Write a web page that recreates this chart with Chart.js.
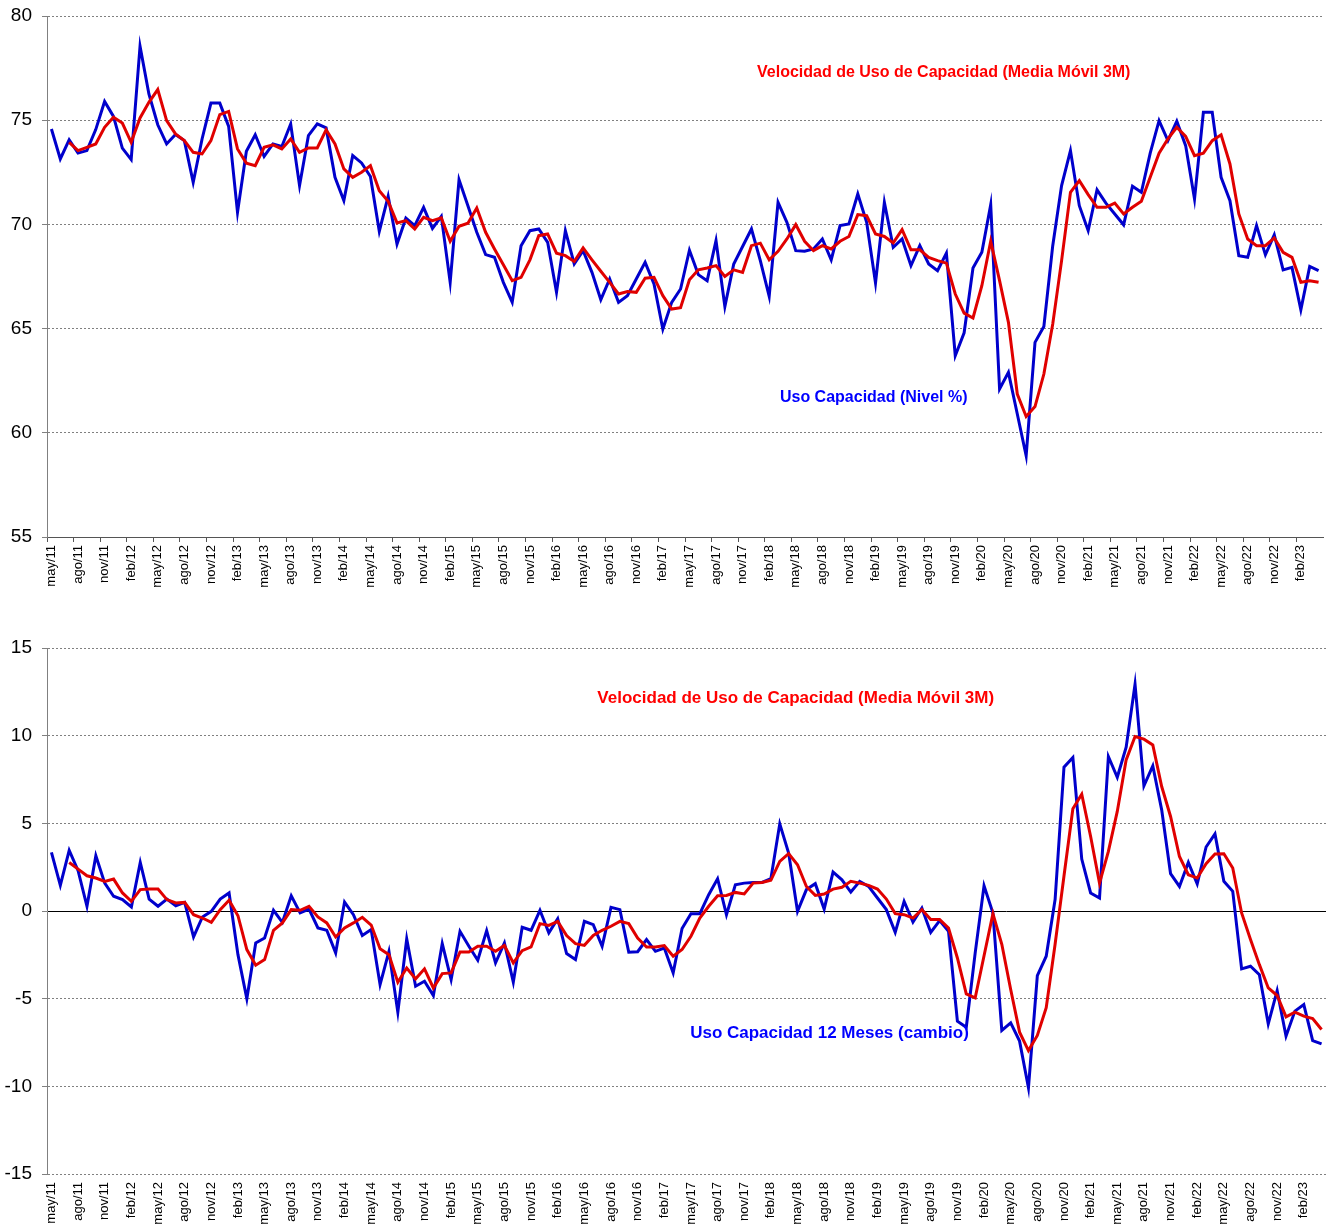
<!DOCTYPE html>
<html>
<head>
<meta charset="utf-8">
<script src="https://cdn.jsdelivr.net/npm/chart.js@4"></script>
<style>
  html, body { margin: 0; padding: 0; background: #fff; }
  body { width: 1327px; height: 1230px; position: relative; overflow: hidden; }
  .panel { position: absolute; left: 0; }
  #top-wrap { top: 0; }
  #bot-wrap { top: 610px; }
</style>
</head>
<body>
<div class="panel" id="top-wrap"><canvas id="top-chart" width="1327" height="600"></canvas></div>
<div class="panel" id="bot-wrap"><canvas id="bot-chart" width="1327" height="620"></canvas></div>
<script>
// ---------------------------------------------------------------
//  Categories: monthly, may/11 .. abr/23
// ---------------------------------------------------------------
const MONTH_NAMES = ["ene", "feb", "mar", "abr", "may", "jun", "jul", "ago", "sep", "oct", "nov", "dic"];
const START_MONTH = 4;   // may
const START_YEAR = 2011;
const N_MONTHS = 144;

const labels = [];
for (let i = 0; i < N_MONTHS; i++) {
  const m = (START_MONTH + i) % 12;
  const y = START_YEAR + Math.floor((START_MONTH + i) / 12);
  labels.push(MONTH_NAMES[m] + "/" + String(y % 100).padStart(2, "0"));
}

// ---------------------------------------------------------------
//  Series
// ---------------------------------------------------------------
const usoNivel = [
  74.58, 73.14, 74.06, 73.42, 73.54, 74.55, 75.90, 75.18, 73.66, 73.11, 78.55, 76.26,
  74.78, 73.86, 74.31, 74.02, 72.02, 74.10, 75.82, 75.82, 74.70, 70.58, 73.51, 74.30,
  73.26, 73.86, 73.74, 74.82, 71.86, 74.26, 74.82, 74.63, 72.26, 71.14, 73.30, 72.95,
  72.30, 69.67, 71.35, 69.06, 70.30, 69.94, 70.82, 69.81, 70.39, 67.22, 72.14, 70.90,
  69.62, 68.55, 68.42, 67.22, 66.26, 68.98, 69.70, 69.78, 69.14, 66.74, 69.70, 68.10,
  68.74, 67.70, 66.39, 67.38, 66.26, 66.58, 67.38, 68.18, 67.14, 64.98, 66.26, 66.90,
  68.76, 67.59, 67.30, 69.22, 66.06, 68.10, 68.94, 69.78, 68.26, 66.55, 71.06, 70.10,
  68.74, 68.71, 68.82, 69.30, 68.30, 69.94, 70.02, 71.46, 70.10, 67.19, 71.06, 68.90,
  69.30, 68.02, 68.98, 68.10, 67.78, 68.62, 63.70, 64.80, 67.91, 68.66, 70.95, 62.10,
  62.90, 60.90, 58.90, 64.34, 65.10, 68.98, 71.86, 73.54, 70.90, 69.70, 71.66, 71.02,
  70.50, 69.98, 71.83, 71.54, 73.42, 74.98, 74.02, 74.95, 73.78, 71.22, 75.38, 75.38,
  72.26, 71.14, 68.50, 68.42, 69.94, 68.54, 69.50, 67.82, 67.94, 65.90, 67.98, 67.78,
];

const velNivel = [
  null,  null,  73.94, 73.54, 73.70, 73.86, 74.66, 75.14, 74.86, 73.94, 75.11, 75.86,
  76.47, 74.98, 74.34, 74.02, 73.46, 73.38, 74.02, 75.27, 75.42, 73.62, 72.94, 72.82,
  73.70, 73.82, 73.62, 74.10, 73.46, 73.67, 73.67, 74.54, 73.86, 72.66, 72.26, 72.50,
  72.82, 71.62, 71.11, 70.07, 70.18, 69.78, 70.34, 70.18, 70.31, 69.19, 69.91, 70.06,
  70.79, 69.62, 68.82, 68.06, 67.30, 67.46, 68.30, 69.46, 69.54, 68.62, 68.50, 68.22,
  68.87, 68.30, 67.75, 67.22, 66.66, 66.78, 66.74, 67.42, 67.46, 66.58, 65.94, 66.00,
  67.34, 67.82, 67.91, 68.02, 67.50, 67.82, 67.70, 68.98, 69.10, 68.30, 68.71, 69.30,
  69.99, 69.19, 68.74, 68.98, 68.82, 69.19, 69.42, 70.47, 70.42, 69.54, 69.42, 69.11,
  69.75, 68.78, 68.78, 68.42, 68.26, 68.14, 66.66, 65.74, 65.51, 67.06, 69.19, 67.30,
  65.30, 61.86, 60.78, 61.26, 62.82, 65.22, 68.26, 71.54, 72.10, 71.43, 70.82, 70.82,
  71.02, 70.50, 70.82, 71.11, 72.26, 73.42, 74.10, 74.66, 74.22, 73.30, 73.42, 74.02,
  74.30, 72.90, 70.50, 69.30, 68.98, 68.98, 69.35, 68.66, 68.42, 67.22, 67.30, 67.22,
];

const uso12m = [
   3.34,  1.46,  3.46,  2.30,  0.27,  3.15,  1.59,  0.84,  0.65,  0.23,  2.77,  0.68,
   0.27,  0.68,  0.30,  0.49, -1.48, -0.34, -0.02,  0.68,  1.03, -2.49, -5.01, -1.82,
  -1.54,  0.04, -0.65,  0.87, -0.11,  0.11, -0.97, -1.10, -2.39,  0.51, -0.21, -1.40,
  -1.06, -4.20, -2.30, -5.77, -1.59, -4.29, -4.01, -4.82, -1.86, -3.91, -1.16, -2.01,
  -2.81, -1.12, -2.96, -1.82, -4.06, -0.93, -1.10,  0.04, -1.25, -0.44, -2.43, -2.77,
  -0.59, -0.78, -2.01,  0.21,  0.08, -2.35, -2.32, -1.63, -2.30, -2.11, -3.53, -1.00,
  -0.15, -0.15,  0.93,  1.84, -0.21,  1.50,  1.59,  1.63,  1.63,  1.84,  4.97,  3.30,
  -0.02,  1.22,  1.56,  0.11,  2.22,  1.78,  1.08,  1.69,  1.40,  0.74,  0.08, -1.22,
   0.55, -0.63,  0.17, -1.22, -0.55, -1.16, -6.28, -6.63, -2.40,  1.44, -0.11, -6.81,
  -6.38, -7.42,-10.08, -3.68, -2.58,  0.65,  8.20,  8.75,  2.96,  1.03,  0.74,  8.81,
   7.63,  9.34, 12.93,  7.14,  8.28,  5.77,  2.13,  1.40,  2.77,  1.54,  3.65,  4.40,
   1.69,  1.12, -3.30, -3.15, -3.63, -6.44, -4.54, -7.14, -5.71, -5.34, -7.39, -7.58,
];

const vel12m = [
   null,  null,  2.77,  2.39,  2.01,  1.88,  1.69,  1.82,  1.03,  0.55,  1.22,  1.25,
   1.25,  0.65,  0.46,  0.49, -0.21, -0.40, -0.65,  0.08,  0.61, -0.27, -2.20, -3.09,
  -2.77, -1.10, -0.68,  0.08,  0.04,  0.27, -0.34, -0.68, -1.48, -0.97, -0.68, -0.36,
  -0.80, -2.16, -2.49, -4.06, -3.25, -3.87, -3.30, -4.39, -3.57, -3.53, -2.34, -2.34,
  -2.01, -2.01, -2.30, -1.97, -2.96, -2.26, -2.05, -0.72, -0.82, -0.59, -1.40, -1.86,
  -1.96, -1.40, -1.10, -0.87, -0.59, -0.72, -1.54, -2.05, -2.05, -1.97, -2.58, -2.20,
  -1.44, -0.40,  0.27,  0.87,  0.89,  1.06,  0.97,  1.59,  1.63,  1.75,  2.83,  3.27,
   2.64,  1.40,  0.89,  0.97,  1.25,  1.35,  1.69,  1.59,  1.46,  1.25,  0.68, -0.15,
  -0.21, -0.40,  0.08, -0.49, -0.49, -0.97, -2.68, -4.73, -4.96, -2.55, -0.15, -1.90,
  -4.48, -6.91, -7.96, -7.10, -5.52, -1.90,  2.00,  5.83,  6.66,  4.25,  1.59,  3.40,
   5.68,  8.62,  9.95,  9.80,  9.47,  7.10,  5.39,  3.11,  2.07,  1.88,  2.70,  3.25,
   3.27,  2.45, -0.11, -1.63, -3.06, -4.39, -4.82, -6.04, -5.77, -6.00, -6.13, -6.76,
];

// Axis ranges and in-chart captions
const TOP_Y_TICKS = [55, 60, 65, 70, 75, 80];
const BOT_Y_TICKS = [-15, -10, -5, 0, 5, 10, 15];

const TOP_NOTES = [
  { text: "Velocidad de Uso de Capacidad (Media Móvil 3M)", color: "#ff0000", at: [100.7, 77.27], size: 16 },
  { text: "Uso Capacidad (Nivel %)", color: "#0000ff", at: [92.8, 61.67], size: 16 },
];
const BOT_NOTES = [
  { text: "Velocidad de Uso de Capacidad (Media Móvil 3M)", color: "#ff0000", at: [83.8, 12.15], size: 17 },
  { text: "Uso Capacidad 12 Meses (cambio)", color: "#0000ff", at: [87.6, -6.96], size: 17 },
];

// ---------------------------------------------------------------
//  Shared bits
// ---------------------------------------------------------------
const FONT = "'Liberation Sans', Arial, sans-serif";
const BLUE = "#0000cc";
const RED = "#e00000";

const notesPlugin = {
  id: "notes",
  afterDatasetsDraw(chart, args, opts) {
    const { ctx, scales: { x, y } } = chart;
    ctx.save();
    ctx.textAlign = "center";
    ctx.textBaseline = "middle";
    for (const n of opts.items || []) {
      ctx.font = `bold ${n.size}px ${FONT}`;
      ctx.fillStyle = n.color;
      ctx.fillText(n.text, x.getPixelForValue(n.at[0]), y.getPixelForValue(n.at[1]));
    }
    ctx.restore();
  },
};

function buildChart(canvasId, cfg) {
  const ctx = document.getElementById(canvasId).getContext("2d");
  return new Chart(ctx, {
    type: "line",
    data: {
      labels,
      datasets: [
        { data: cfg.blue, borderColor: BLUE, borderWidth: 3, pointRadius: 0, tension: 0, order: 1 },
        { data: cfg.red,  borderColor: RED,  borderWidth: 3, pointRadius: 0, tension: 0, order: 0 },
      ],
    },
    options: {
      responsive: false,
      animation: false,
      layout: { padding: cfg.padding },
      scales: {
        x: {
          type: "category",
          offset: true,
          grid: {
            offset: true,
            drawOnChartArea: false,
            drawTicks: cfg.xTicks,
            tickLength: 5,
            color: c => (c.index % 3 === 0 ? "#555" : "rgba(0,0,0,0)"),
          },
          border: { display: cfg.xBorder, color: "#555", width: 1 },
          ticks: {
            autoSkip: false,
            minRotation: 90,
            maxRotation: 90,
            padding: cfg.xTicks ? 3 : 8,
            color: "#000",
            font: { family: FONT, size: 13 },
            callback: function (v, i) { return i % 3 === 0 ? this.getLabelForValue(v) : ""; },
          },
          afterFit: s => {
            s.height = cfg.xHeight;
            s.paddingLeft = 0;
            s.paddingRight = 0;
          },
        },
        y: {
          min: cfg.yTicks[0],
          max: cfg.yTicks[cfg.yTicks.length - 1],
          afterBuildTicks: s => { s.ticks = cfg.yTicks.map(v => ({ value: v })); },
          grid: {
            color: c => (c.tick && c.tick.value === 0 ? "#000" : "#808080"),
            lineWidth: 1,
            tickLength: 5,
            tickColor: "#808080",
          },
          border: {
            display: true,
            color: "#808080",
            width: 1,
            dash: c => (c.tick && c.tick.value === 0 ? [] : [2, 2]),
          },
          ticks: {
            padding: 10,
            color: "#000",
            font: { family: FONT, size: 19 },
          },
          afterFit: s => {
            s.width = 47;
            s.paddingTop = 0;
            s.paddingBottom = 0;
          },
        },
      },
      plugins: {
        legend: { display: false },
        tooltip: { enabled: false },
        notes: { items: cfg.notes },
      },
    },
    plugins: [notesPlugin],
  });
}

// ---------------------------------------------------------------
//  Top: nivel %   Bottom: cambio 12 meses
// ---------------------------------------------------------------
buildChart("top-chart", {
  blue: usoNivel, red: velNivel, yTicks: TOP_Y_TICKS, notes: TOP_NOTES,
  padding: { top: 16, right: 4, left: 0, bottom: 0 },
  xHeight: 63, xTicks: true, xBorder: true,
});

buildChart("bot-chart", {
  blue: uso12m, red: vel12m, yTicks: BOT_Y_TICKS, notes: BOT_NOTES,
  padding: { top: 38, right: 1, left: 0, bottom: 0 },
  xHeight: 56, xTicks: false, xBorder: false,
});
</script>
</body>
</html>
